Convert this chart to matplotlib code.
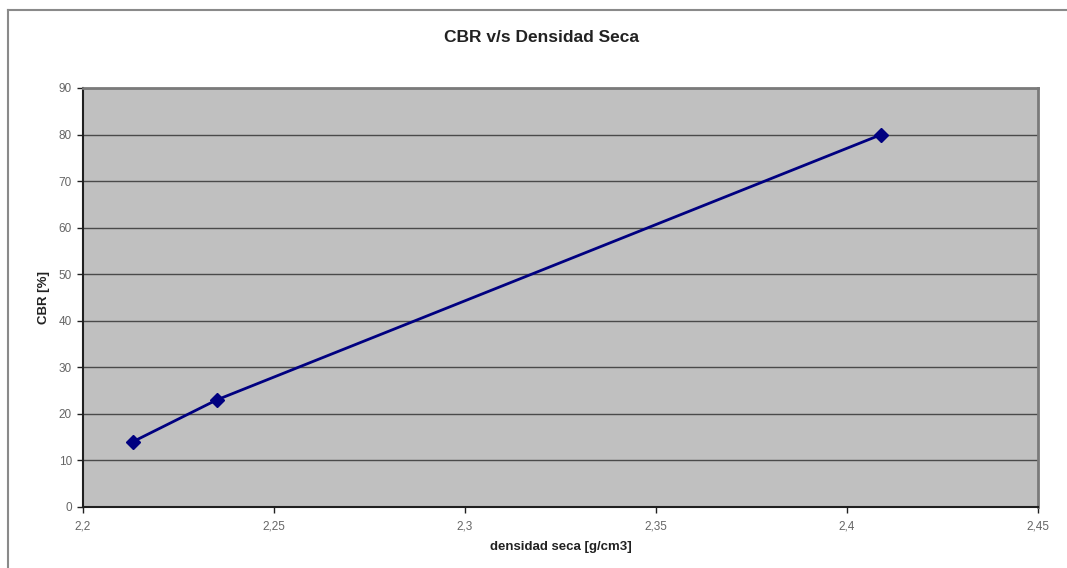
import matplotlib
matplotlib.use('Agg')
import matplotlib.pyplot as plt
from matplotlib.lines import Line2D
from matplotlib.ticker import FuncFormatter, MultipleLocator

plt.rcParams['font.family'] = ['Liberation Sans', 'DejaVu Sans']

# densidad seca [g/cm3] vs CBR [%]
densidad = [2.213, 2.235, 2.409]
cbr = [14, 23, 80]

fig = plt.figure(figsize=(10.67, 5.68), dpi=100)
ax = fig.add_axes([0.0778, 0.1074, 0.8950, 0.7377])

ax.set_facecolor('#c0c0c0')
ax.plot(densidad, cbr, color='#000080', linewidth=2, marker='D', markersize=7,
        markerfacecolor='#000080', markeredgecolor='#000080', zorder=3)

ax.set_xlim(2.2, 2.45)
ax.set_ylim(0, 90)
ax.xaxis.set_major_locator(MultipleLocator(0.05))
ax.yaxis.set_major_locator(MultipleLocator(10))
ax.xaxis.set_major_formatter(FuncFormatter(lambda v, p: f'{v:.2f}'.rstrip('0').rstrip('.').replace('.', ',')))

ax.grid(axis='y', color='#4a4a4a', linewidth=1.0)
ax.set_axisbelow(True)

for s in ['left', 'bottom']:
    ax.spines[s].set_color('#202020')
    ax.spines[s].set_linewidth(1.5)
for s in ['top', 'right']:
    ax.spines[s].set_color('#7a7a7a')
    ax.spines[s].set_linewidth(2)

ax.tick_params(axis='both', direction='out', length=4, width=1, color='#202020',
               labelsize=8.5, labelcolor='#666666', pad=4)
ax.tick_params(axis='x', pad=6)

fig.text(541 / 1067, 1 - 37 / 568, 'CBR v/s Densidad Seca', fontsize=12.5, fontweight='bold',
         color='#222222', ha='center', va='center')
ax.set_xlabel('densidad seca [g/cm3]', fontsize=9.5, fontweight='bold', color='#222222', labelpad=6)
ax.set_ylabel('CBR [%]', fontsize=9.5, fontweight='bold', color='#222222', labelpad=6)

# chart frame
fig.add_artist(Line2D([8 / 1067, 1.0], [1 - 10 / 568, 1 - 10 / 568], transform=fig.transFigure,
                      color='#8a8a8a', linewidth=1.5))
fig.add_artist(Line2D([8 / 1067, 8 / 1067], [0.0, 1 - 10 / 568], transform=fig.transFigure,
                      color='#8a8a8a', linewidth=1.5))

fig.savefig('out.png', dpi=100)
